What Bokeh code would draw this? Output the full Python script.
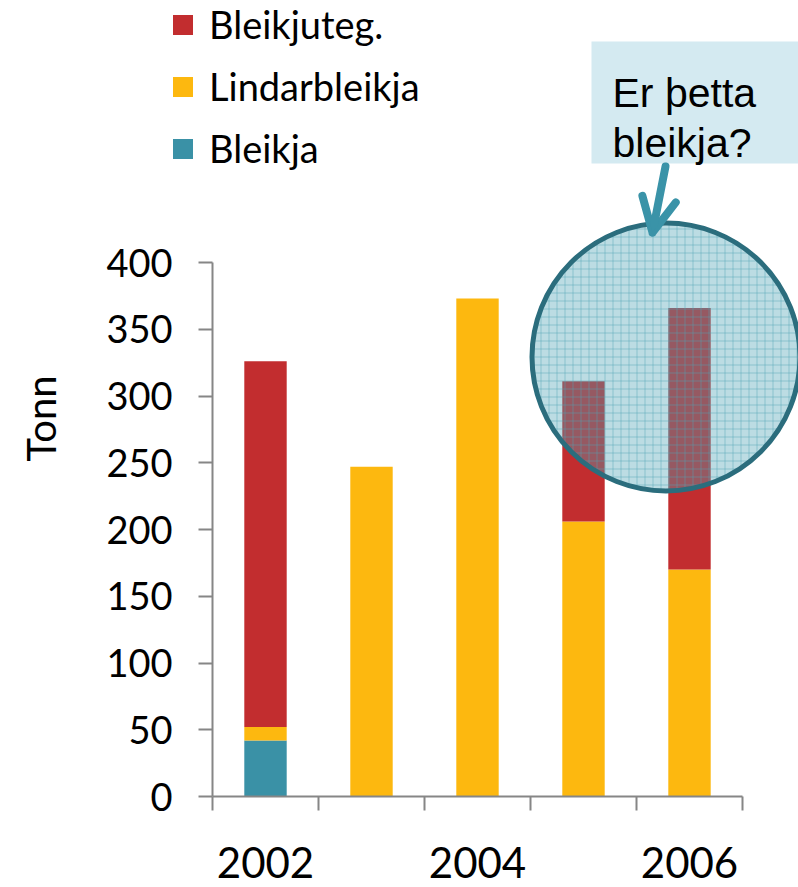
import math
from bokeh.plotting import figure
from bokeh.models import (Range1d, FixedTicker, Legend, LegendItem, Arrow, OpenHead,
                          ColumnDataSource)
from bokeh.core.properties import value
from bokeh.embed import file_html
from bokeh.resources import INLINE

# ---- data ----
years = [2002, 2003, 2004, 2005, 2006]
bleikja = [42, 0, 0, 0, 0]
lindarbleikja = [10, 247, 373, 206, 170]
bleikjuteg = [274, 0, 0, 105, 196]
series = ["Bleikja", "Lindarbleikja", "Bleikjuteg."]
colors = ["#3a91a6", "#fdb80f", "#c22d2f"]
y_ticks = [0, 50, 100, 150, 200, 250, 300, 350, 400]
x_label_years = [2002, 2004, 2006]
y_title = "Tonn"
callout_lines = ["Er þetta", "bleikja?"]

# ---- layout geometry (canvas px) ----
W, H = 798, 887
ORIG_X, ORIG_Y = 212, 796   # canvas px of (2001.5, 0)
PX_X = 106.0                # px per year
PX_Y = 534.0 / 400.0        # px per tonne

def sx2d(sx):
    return 2001.5 + (sx - ORIG_X) / PX_X

def sy2d(sy):
    return (ORIG_Y - sy) / PX_Y

p = figure(width=W, height=H, output_backend="svg", toolbar_location=None,
           x_range=Range1d(sx2d(0), sx2d(W)), y_range=Range1d(sy2d(H), sy2d(0)),
           min_border=0)
p.outline_line_color = None
p.xgrid.visible = False
p.ygrid.visible = False
p.background_fill_color = "white"
p.border_fill_color = "white"

src = ColumnDataSource(dict(year=years, Bleikja=bleikja,
                            Lindarbleikja=lindarbleikja,
                            **{"Bleikjuteg.": bleikjuteg}))
rs = p.vbar_stack(series, x="year", width=0.4, source=src, color=colors,
                  line_color=None)

# ---- axes ----
AX = "#868686"
FONT = "Lato"
ya = p.yaxis[0]
ya.fixed_location = 2001.5
ya.bounds = (0, 400)
ya.ticker = FixedTicker(ticks=y_ticks)
ya.minor_tick_line_color = None
ya.axis_line_color = AX
ya.axis_line_width = 2
ya.major_tick_line_color = AX
ya.major_tick_line_width = 2
ya.major_tick_out = 14
ya.major_tick_in = 0
ya.major_label_text_font = FONT
ya.major_label_text_font_size = "38px"
ya.major_label_text_color = "black"
ya.major_label_standoff = 26

# y-axis title
p.text(x=[sx2d(40)], y=[sy2d(418)], text=[y_title], angle=math.pi / 2,
       text_font=value(FONT), text_font_size="40px", text_color="black",
       text_align="center", text_baseline="middle")

xa = p.xaxis[0]
xa.fixed_location = 0
xa.bounds = (2001.5, 2006.5)
xa.ticker = FixedTicker(ticks=x_label_years,
                        minor_ticks=[2001.5, 2002.5, 2003.5, 2004.5, 2005.5, 2006.5])
xa.axis_line_color = AX
xa.axis_line_width = 2
xa.major_tick_line_color = None
xa.major_tick_out = 0
xa.major_tick_in = 0
xa.minor_tick_line_color = AX
xa.minor_tick_line_width = 2
xa.minor_tick_out = 14
xa.minor_tick_in = 0
xa.major_label_text_font = FONT
xa.major_label_text_font_size = "42px"
xa.major_label_text_color = "black"
xa.major_label_standoff = 36

# ---- legend (location = bottom-left corner, frame px) ----
items = [LegendItem(label=series[i], renderers=[rs[i]]) for i in (2, 1, 0)]
legend = Legend(items=items, location=(170, H - 171),
                glyph_width=25, glyph_height=25, label_standoff=14,
                label_text_font=FONT, label_text_font_size="38px",
                label_text_color="black", padding=0, margin=0, spacing=16,
                border_line_color=None, background_fill_alpha=0)
p.add_layout(legend, "center")

# ---- highlight circle ----
p.scatter(x=[sx2d(665.5)], y=[sy2d(356.5)], marker="circle", size=268,
          fill_color="#4fa3b6", fill_alpha=0.38,
          hatch_pattern="+", hatch_color="#4fa3b6", hatch_alpha=0.45,
          hatch_scale=8, hatch_weight=1,
          line_color="#2b6d7d", line_width=5)

# ---- callout ----
p.quad(left=[sx2d(591)], right=[sx2d(805)], top=[sy2d(41)], bottom=[sy2d(163)],
       fill_color="#d4eaf1", line_color=None)
p.text(x=[sx2d(612)] * 2, y=[sy2d(92), sy2d(142)], text=callout_lines,
       text_font=value("Liberation Sans"), text_font_size="41px",
       text_color="black", text_baseline="alphabetic", text_align="left")
ARROW = "#3a93a8"
p.add_layout(Arrow(end=OpenHead(size=34, line_width=8, line_color=ARROW,
                                line_cap="round", line_join="round"),
                   x_start=sx2d(665), y_start=sy2d(166),
                   x_end=sx2d(652), y_end=sy2d(232),
                   line_width=8, line_color=ARROW, line_cap="round"))

open("out.html", "w").write(file_html(p, INLINE))
